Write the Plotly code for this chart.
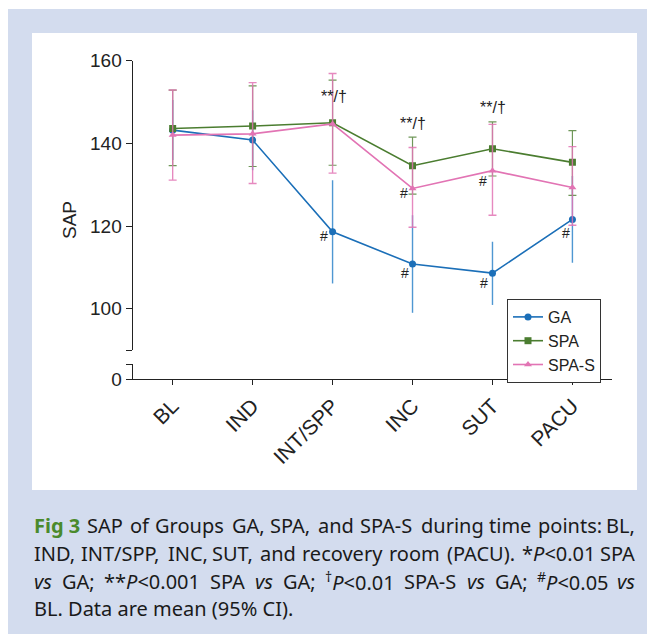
import re
import plotly.graph_objects as go

# ---------------- data ----------------
categories = ["BL", "IND", "INT/SPP", "INC", "SUT", "PACU"]

ga_mean = [143.2, 140.8, 118.6, 110.8, 108.6, 121.6]
ga_low = [136.0, 133.5, 106.1, 99.0, 100.9, 111.1]
ga_high = [150.5, 148.0, 131.1, 122.6, 116.2, 132.1]

spa_mean = [143.6, 144.2, 145.0, 134.6, 138.7, 135.4]
spa_low = [134.6, 134.4, 134.7, 127.7, 132.1, 127.4]
spa_high = [152.9, 153.9, 155.3, 141.5, 145.2, 143.1]

spas_mean = [142.0, 142.3, 144.7, 129.1, 133.4, 129.3]
spas_low = [131.1, 130.3, 132.8, 119.7, 122.6, 120.2]
spas_high = [152.9, 154.7, 156.9, 139.0, 144.6, 139.2]

upper_ticks = [90, 100, 120, 140, 160]
upper_ticktext = ["", "100", "120", "140", "160"]

# caption, as lines of words (justified lines 1-3, last line ragged)
caption_words = [
    ["<b><span style='color:#4a8a2c'>Fig 3</span></b>", "SAP", "of", "Groups", "GA,", "SPA,",
     "and", "SPA-S", "during", "time", "points:", "BL,"],
    ["IND,", "INT/SPP,", "INC,", "SUT,", "and", "recovery", "room", "(PACU).",
     "*<i>P</i>&lt;0.01", "SPA"],
    ["<i>vs</i>", "GA;", "**<i>P</i>&lt;0.001", "SPA", "<i>vs</i>", "GA;",
     "<sup>†</sup><i>P</i>&lt;0.01", "SPA-S", "<i>vs</i>", "GA;",
     "<sup>#</sup><i>P</i>&lt;0.05", "<i>vs</i>"],
    ["BL.", "Data", "are", "mean", "(95%", "CI)."],
]
caption_line_y = [525, 553.5, 581, 608.5]
CAP_FS = 20
CAP_LEFT, CAP_RIGHT = 32, 637

OFF = 8  # page body offset of the figure in the window
W, H = 655 - OFF, 634 - OFF


def px_x(x):
    return (x - OFF) / W


def px_y(y):
    return 1 - (y - OFF) / H


# approximate advance widths (em) of Noto Sans glyphs, used only to justify caption lines
GW = {" ": .26, "a": .556, "b": .613, "c": .476, "d": .613, "e": .561, "f": .339, "g": .548,
      "h": .614, "i": .253, "j": .253, "k": .525, "l": .253, "m": .93, "n": .614, "o": .604,
      "p": .613, "q": .613, "r": .408, "s": .477, "t": .353, "u": .614, "v": .501, "w": .778,
      "x": .524, "y": .502, "z": .477, "A": .633, "B": .648, "C": .631, "D": .729, "E": .556,
      "F": .516, "G": .728, "H": .738, "I": .303, "J": .253, "K": .59, "L": .519, "M": .903,
      "N": .754, "O": .779, "P": .602, "Q": .779, "R": .618, "S": .549, "T": .553, "U": .732,
      "V": .6, "W": .922, "X": .572, "Y": .549, "Z": .556, ",": .245, ".": .266, ":": .266,
      ";": .266, "(": .28, ")": .28, "-": .322, "/": .367, "%": .831, "*": .539, "<": .556,
      "#": .656, "†": .5}


def est_width(html, fs):
    w = 0.0
    for m in re.finditer(r"<sup>(.*?)</sup>", html):
        w += 0.7 * sum(GW.get(ch, .556) for ch in m.group(1))
    rest = re.sub(r"<sup>.*?</sup>", "", html)
    bold = "<b>" in rest
    rest = re.sub(r"<[^>]+>", "", rest).replace("&lt;", "<")
    w += sum(GW.get(ch, .556) for ch in rest) * (1.08 if bold else 1.0)
    return w * fs * 1.035


BLUE = "#1b6fb8"
BLUE_EB = "rgba(60,140,205,0.9)"
GREEN = "#4b7d30"
GREEN_EB = "rgba(75,125,48,0.8)"
PINK = "#e274b4"
PINK_EB = "rgba(226,116,180,0.85)"
AXC = "#222222"
FONT = "Liberation Sans, Arial, Helvetica, sans-serif"
CAPFONT = "Noto Sans, sans-serif"


def err(mean, low, high):
    return dict(
        type="data",
        symmetric=False,
        array=[h - m for m, h in zip(mean, high)],
        arrayminus=[m - l for m, l in zip(mean, low)],
    )


fig = go.Figure()

e = err(ga_mean, ga_low, ga_high)
e.update(color=BLUE_EB, thickness=1.4, width=0)
fig.add_trace(go.Scatter(x=categories, y=ga_mean, name="GA", mode="lines+markers",
                         line=dict(color=BLUE, width=1.6),
                         marker=dict(symbol="circle", size=7, color=BLUE),
                         error_y=e, yaxis="y2"))

e = err(spa_mean, spa_low, spa_high)
e.update(color=GREEN_EB, thickness=1.2, width=4)
fig.add_trace(go.Scatter(x=categories, y=spa_mean, name="SPA", mode="lines+markers",
                         line=dict(color=GREEN, width=1.6),
                         marker=dict(symbol="square", size=7, color=GREEN),
                         error_y=e, yaxis="y2"))

e = err(spas_mean, spas_low, spas_high)
e.update(color=PINK_EB, thickness=1.4, width=4)
fig.add_trace(go.Scatter(x=categories, y=spas_mean, name="SPA-S", mode="lines+markers",
                         line=dict(color=PINK, width=1.6),
                         marker=dict(symbol="triangle-up", size=7, color=PINK),
                         error_y=e, yaxis="y2"))

# invisible trace on lower axis segment to activate it
fig.add_trace(go.Scatter(x=categories, y=[None] * 6, yaxis="y", showlegend=False,
                         hoverinfo="skip", mode="markers"))

annotations = []
sig = [("INT/SPP", 151.3, 1), ("INC", 144.7, 0), ("SUT", 148.7, 1)]
for c, yv, xs in sig:
    annotations.append(dict(x=c, y=yv, xref="x", yref="y2", text="**/†", showarrow=False,
                            xshift=xs, font=dict(size=16, color=AXC, family=FONT)))
hashes = [("INT/SPP", 117.6, -9), ("INC", 108.7, -8), ("INC", 127.9, -9),
          ("SUT", 106.3, -8), ("SUT", 131.0, -9), ("PACU", 118.2, -6)]
for c, yv, xs in hashes:
    annotations.append(dict(x=c, y=yv, xref="x", yref="y2", text="#", showarrow=False,
                            xshift=xs, font=dict(size=14, color=AXC, family=FONT)))

annotations.append(dict(x=px_x(70), y=px_y(220), xref="paper", yref="paper", text="SAP",
                        textangle=-90, showarrow=False, xanchor="center", yanchor="middle",
                        font=dict(size=19, color=AXC, family=FONT)))

capfont = dict(size=CAP_FS, color="#1a1a1a", family=CAPFONT)
n_lines = len(caption_words)
for li, (words, yy) in enumerate(zip(caption_words, caption_line_y)):
    if li == n_lines - 1:
        annotations.append(dict(x=px_x(CAP_LEFT), y=px_y(yy), xref="paper", yref="paper",
                                text=" ".join(words), xanchor="left", yanchor="middle",
                                showarrow=False, font=capfont))
        continue
    widths = [est_width(w, CAP_FS) for w in words]
    gap = (CAP_RIGHT - CAP_LEFT - sum(widths)) / (len(words) - 1)
    xcur = CAP_LEFT
    for wi, (w, ww) in enumerate(zip(words, widths)):
        if wi == len(words) - 1:
            xpos, anchor = px_x(CAP_RIGHT), "right"
        else:
            xpos, anchor = px_x(xcur), "left"
        annotations.append(dict(x=xpos, y=px_y(yy), xref="paper", yref="paper", text=w,
                                xanchor=anchor, yanchor="middle", showarrow=False,
                                font=capfont))
        xcur += ww + gap

shapes = [
    dict(type="rect", xref="paper", yref="paper", x0=px_x(7), x1=px_x(660),
         y0=px_y(640), y1=px_y(9), fillcolor="#d3dcee", line=dict(width=0), layer="below"),
    dict(type="rect", xref="paper", yref="paper", x0=px_x(32), x1=px_x(637),
         y0=px_y(490), y1=px_y(33), fillcolor="white", line=dict(width=0), layer="below"),
]

fig.update_layout(
    width=W, height=H,
    margin=dict(l=0, r=0, t=0, b=0, autoexpand=False),
    paper_bgcolor="white",
    plot_bgcolor="rgba(0,0,0,0)",
    showlegend=True,
    legend=dict(x=px_x(507), y=px_y(299), xanchor="left", yanchor="top",
                bgcolor="white", bordercolor="#333333", borderwidth=1,
                font=dict(size=16, color=AXC, family=FONT),
                tracegroupgap=0, itemwidth=30),
    xaxis=dict(domain=[px_x(132.7), px_x(612.4)], type="category",
               range=[-0.5, 5.5], anchor="y",
               showline=True, linecolor=AXC, linewidth=1.3,
               ticks="outside", ticklen=5, tickwidth=1.3, tickcolor=AXC,
               tickangle=-45, showgrid=False, zeroline=False,
               tickfont=dict(size=21, color=AXC, family=FONT)),
    yaxis=dict(domain=[px_y(379.3), px_y(364)], range=[0, 3.7],
               anchor="x", showline=True, linecolor=AXC, linewidth=1.3,
               ticks="outside", ticklen=6, tickwidth=1.3, tickcolor=AXC,
               tickvals=[0, 3.7], ticktext=["0", " "], showgrid=False, zeroline=False,
               tickfont=dict(size=19, color=AXC, family=FONT)),
    yaxis2=dict(domain=[px_y(350), px_y(60.7)], range=[90, 160],
                anchor="x", showline=True, linecolor=AXC, linewidth=1.3,
                ticks="outside", ticklen=6, tickwidth=1.3, tickcolor=AXC,
                tickvals=upper_ticks, ticktext=upper_ticktext,
                showgrid=False, zeroline=False,
                tickfont=dict(size=19, color=AXC, family=FONT)),
    annotations=annotations,
    shapes=shapes,
)

fig.write_html("out.html")
